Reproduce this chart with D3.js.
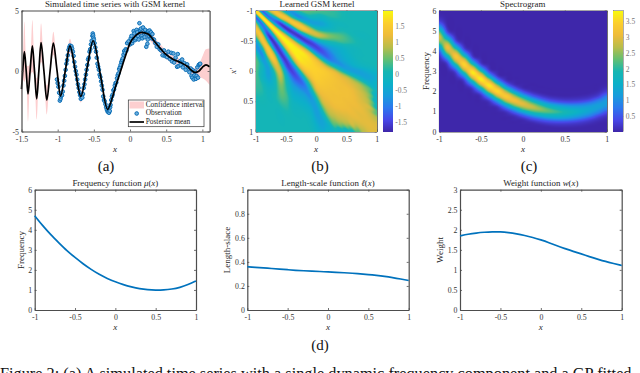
<!DOCTYPE html>
<html>
<head>
<meta charset="utf-8">
<script src="https://cdnjs.cloudflare.com/ajax/libs/d3/7.8.5/d3.min.js"></script>
<style>
html, body { margin: 0; padding: 0; background: #fff; overflow: hidden; }
#chart { position: relative; width: 640px; height: 373px; overflow: hidden; }
#chart canvas { position: absolute; }
#chart svg { position: absolute; left: 0; top: 0; }
text { font-family: "Liberation Serif", serif; fill: #262626; }
</style>
</head>
<body>
<div id="chart"></div>
<script>
// (a) posterior mean knots and half width of the confidence band
const meanX = [-1.5,-1.48,-1.46,-1.435,-1.41,-1.38,-1.35,-1.32,-1.29,-1.26,-1.23,-1.19,-1.15,-1.105,-1.06,-1.01,-.96,-.895,-.83,-.755,-.68,-.595,-.51,-.41,-.31,-.25,-.2,-.13,-.06,0,.08,.16,.25,.35,.5,.6,.7,.8,.85,.9,.95,1,1.05,1.1];
const meanY = [-1.5,.3,1.6,0,-1.9,.1,2.07,0,-2.3,0,2.35,0,-2.4,0,2.3,.1,-2.07,0,2.07,0,-2.1,.2,2.5,-.3,-3.17,-2.3,-1.3,0,1.3,2.3,2.95,3.2,3.05,2.35,1.35,.95,.7,.35,.05,-.12,-.02,.3,.5,.35];
const confHalf = [1.5,1,2.5,.5,2.3,.5,2.15,.5,1.7,.4,1.6,.3,1.2,.25,.95,.2,.35,.15,.6,.15,.5,.15,.3,.15,.3,.2,.15,.15,.2,.3,.35,.4,.4,.35,.35,.3,.3,.3,.3,.35,.5,.9,1.3,1.5];

// (a) observations
const obsX = [-1.01,-1,-.99,-.98,-.97,-.96,-.955,-.94,-.93,-.92,-.91,-.9,-.89,-.88,-.87,-.86,-.85,-.84,-.83,-.82,-.81,-.8,-.79,-.78,-.77,-.76,-.75,-.74,-.73,-.72,-.71,-.7,-.69,-.68,-.67,-.66,-.65,-.64,-.63,-.62,-.61,-.6,-.59,-.58,-.57,-.56,-.55,-.54,-.53,-.52,-.515,-.51,-.505,-.5,-.49,-.48,-.47,-.46,-.45,-.44,-.43,-.42,-.41,-.4,-.39,-.38,-.37,-.36,-.35,-.34,-.33,-.32,-.31,-.3,-.29,-.28,-.275,-.27,-.26,-.25,-.24,-.23,-.22,-.21,-.2,-.19,-.18,-.17,-.16,-.15,-.14,-.13,-.12,-.11,-.1,-.09,-.08,-.07,-.06,-.05,-.04,-.02,0,.01,.02,.03,.04,.05,.06,.07,.08,.09,.1,.11,.12,.13,.14,.15,.16,.17,.18,.19,.2,.21,.22,.225,.24,.245,.25,.26,.27,.28,.29,.3,.31,.33,.35,.37,.39,.41,.43,.45,.47,.48,.5,.51,.53,.55,.57,.58,.6,.61,.63,.65,.66,.67,.69,.7,.72,.73,.75,.77,.79,.8,.82,.84,.85,.86,.87,.88,.89,.9,.91,.92,.93,.94,.95,.96,.97];
const obsY = [-.7,-1,-1.3,-1.8,-2.45,-2.3,-2.1,-2,-1.7,-1.2,-.8,-.4,.1,.6,.9,1.3,1.75,1.95,2.1,2,2.05,1.85,1.6,1.25,.75,.35,0,-.3,-.7,-1.1,-1.4,-1.75,-2,-2.3,-2,-2.2,-1.9,-1.4,-1.1,-.7,-.3,.1,.5,.95,1.1,1.6,1.8,2.2,2.5,2.9,3.1,2.95,2.75,2.6,2.3,1.95,1.6,1.1,.6,.35,.1,-.3,-.5,-.85,-1.2,-1.55,-2.1,-2.4,-2.5,-2.75,-3,-3.2,-3.35,-3.4,-3.45,-3.3,-3,-2.8,-2.4,-2.1,-1.95,-1.6,-1.5,-1.2,-1,-.95,-.6,-.35,-.2,.15,.3,.5,.75,.9,1.05,1.35,1.65,1.5,1.8,1.7,2.3,2.45,2.2,2.7,2.9,2.3,2.5,3.3,3.1,2.55,2.7,3.4,3.2,2.9,2.6,3.95,3.4,3.5,2.9,2.7,3.6,3.2,2.8,3.4,3.1,2,2.25,2.6,3.3,2.9,3.35,3,3.2,2.7,3.05,2.6,2.3,2,2.2,1.8,1.7,1.3,1.7,1.25,1.3,1.15,1.6,1,1.5,.8,1.45,.7,1.1,.35,1.4,.4,.8,.5,.95,.3,.65,.1,.55,.3,-.1,.2,-.4,-.55,.05,-.7,-.35,-.05,-.65,-.4,.3,-.55,.5,.55,.6];

// (b) learned kernel: one row per x' (-1 to 1 by 0.1), values going outward from the diagonal by 0.1
const kernelRows = [
  [1.85,-1.2,.6,1.4,.7,-.5,-.7,.1,.4,.4,.35,.3,.25,.2,.1,.05,0,0,0,0,0],
  [1.9,-1,-.3,1.2,1.3,.1,-.8,-.6,-.1,-.1,-.1,.1,.15,.1,.05,0,0,0,0,0],
  [1.95,-.5,-1.5,0,1.4,1.2,.2,-.5,-.6,-.5,-.25,-.1,-.05,0,0,0,0,0,0],
  [1.95,.1,-1.6,-1.1,.7,1.4,.9,.15,-.1,-.1,-.05,.05,0,0,0,0,0,0],
  [1.95,.8,-1.1,-1.6,-.6,.5,1,.85,.6,.45,.35,.2,.05,-.05,-.05,0,0],
  [1.95,1.3,-.3,-1.5,-1.4,-.6,-.1,.1,.2,.3,.25,.15,.05,0,0,0],
  [1.9,1.6,.5,-1,-1.5,-1.1,-.65,-.4,-.25,-.1,-.05,0,0,0,0],
  [1.85,1.75,1,-.6,-1.3,-1.1,-.65,-.4,-.25,-.1,-.05,0,0,0],
  [1.75,1.65,1.15,-.1,-1,-.9,-.55,-.35,-.2,-.05,0,0,0],
  [1.65,1.55,1.25,.45,-.3,-.75,-.6,-.35,-.2,-.1,-.05,0],
  [1.6,1.55,1.4,1.1,.35,-.3,-.6,-.6,-.45,-.3,-.2],
  [1.5,1.45,1.35,1.2,.95,.35,-.2,-.5,-.5,-.35],
  [1.4,1.35,1.3,1.2,1.05,.75,.2,-.3,-.2],
  [1.35,1.3,1.3,1.2,1,.7,.3,-.25],
  [1.3,1.3,1.25,1.1,.9,.45,-.4],
  [1.25,1.25,1.15,1,.6,-.35],
  [1.2,1.2,1.1,.9,-.1],
  [1.15,1.15,.95,.4],
  [1.15,1.1,.9],
  [1.15,1.1],
  [1.1]
];

// (c) spectrogram: one row per x (-1 to 1 by 0.1), values going away from the ridge by 0.25 Hz
const spectrogramRows = [
  [2.95,2.35,1.2,.4,.1,.02],
  [3.1,2.5,1.3,.4,.1,.02],
  [3.3,2.65,1.35,.4,.1,.02],
  [3.5,2.8,1.4,.4,.08,.02],
  [3.7,2.9,1.4,.35,.07,.02],
  [3.75,2.9,1.35,.3,.06,.02],
  [3.7,2.85,1.25,.27,.05,.02],
  [3.55,2.7,1.15,.22,.04,.02],
  [3.35,2.55,1.05,.2,.03,.02],
  [3.15,2.4,.95,.17,.03,.02],
  [3,2.25,.85,.13,.03,.02],
  [2.8,2.05,.75,.12,.02,.02],
  [2.55,1.85,.65,.1,.02,.02],
  [2.3,1.65,.55,.08,.02,.02],
  [2.1,1.5,.48,.07,.02,.02],
  [1.9,1.35,.42,.06,.02,.02],
  [1.7,1.2,.38,.06,.02,.02],
  [1.5,1.08,.35,.06,.02,.02],
  [1.35,1,.33,.06,.02,.02],
  [1.25,.95,.33,.07,.02,.02],
  [1.2,.95,.38,.1,.02,.02]
];

// (d) the three learned functions on x = -1 to 1 by 0.1
const gridX = d3.range(21).map(i => -1 + i * 0.1);
const frequencyValues = [4.7,4.2,3.75,3.35,2.95,2.62,2.3,2.02,1.77,1.57,1.4,1.26,1.15,1.06,1.01,.99,1,1.04,1.12,1.26,1.45];
const lengthValues = [.36,.355,.35,.345,.34,.335,.33,.326,.323,.32,.316,.313,.31,.306,.3,.295,.288,.28,.27,.258,.245];
const weightValues = [1.85,1.89,1.92,1.94,1.95,1.95,1.93,1.9,1.86,1.81,1.75,1.68,1.6,1.53,1.46,1.4,1.33,1.27,1.21,1.16,1.11];

const unitTicks = [-1, -0.5, 0, 0.5, 1];
const parula = ["#3E26A8","#4747E8","#2C78EE","#189CDC","#0CB0C8","#16B6B2","#63BF72","#B8BD4A","#EEBC3A","#FCCF2E","#F8F90E"];
const axisColor = "#4d4d4d";
const lineBlue = "#0072bd";

const chart = d3.select("#chart");
const svg = chart.append("svg").attr("width", 640).attr("height", 373);

function cubic(a, b, c, d, t) {
    return b + 0.5 * t * (c - a + t * (2 * a - 5 * b + 4 * c - d + t * (3 * (b - c) + d - a)));
}

// cubic lookup along one row, mirrored at index 0
function rowAt(row, s) {
    const i = Math.floor(s), t = s - i;
    const get = k => row[Math.min(Math.abs(k), row.length - 1)];
    return cubic(get(i - 1), get(i), get(i + 1), get(i + 2), t);
}

function acrossRows(rows, r, fn) {
    const i = Math.floor(r), t = r - i;
    const get = k => fn(Math.max(0, Math.min(rows.length - 1, k)));
    return cubic(get(i - 1), get(i), get(i + 1), get(i + 2), t);
}

function makeColor(lo, hi) {
    const dom = parula.map((c, i) => lo + (hi - lo) * i / (parula.length - 1));
    return d3.scaleLinear().domain(dom).range(parula).clamp(true);
}

function paint(box, w, h, fn) {
    const canvas = chart.append("canvas")
        .attr("width", w).attr("height", h)
        .style("left", box.left + "px").style("top", box.top + "px")
        .style("width", w + "px").style("height", h + "px");
    const ctx = canvas.node().getContext("2d");
    for (let py = 0; py < h; py++) {
        for (let px = 0; px < w; px++) {
            ctx.fillStyle = fn(px + 0.5, py + 0.5);
            ctx.fillRect(px, py, 1, 1);
        }
    }
}

function drawAxes(box, xDomain, yDomain, xTicks, yTicks, opts) {
    opts = opts || {};
    const x = d3.scaleLinear().domain(xDomain).range([box.left, box.right]);
    const y = d3.scaleLinear().domain(yDomain).range(opts.flipY ? [box.top, box.bottom] : [box.bottom, box.top]);
    const g = svg.append("g");
    const fmt = d => String(d);
    const sides = [
        [d3.axisBottom(x).tickValues(xTicks).tickFormat(fmt), box.bottom, 0, "bottom"],
        [d3.axisTop(x).tickValues(xTicks).tickFormat(""), box.top, 0, "top"],
        [d3.axisLeft(y).tickValues(yTicks).tickFormat(fmt), 0, box.left, "left"],
        [d3.axisRight(y).tickValues(yTicks).tickFormat(""), 0, box.right, "right"]
    ];
    sides.forEach(s => {
        const a = g.append("g").attr("transform", "translate(" + s[2] + "," + s[1] + ")")
            .call(s[0].tickSizeInner(-2).tickSizeOuter(0));
        a.selectAll("path").attr("stroke", axisColor).attr("stroke-width", 1.2);
        a.selectAll("line").attr("stroke", axisColor).attr("stroke-width", 0.8);
        a.selectAll("text").style("font-size", "7.8px").style("fill", "#333");
        if (s[3] == "bottom") a.selectAll("text").attr("y", 4.5).attr("dy", "0.71em");
        if (s[3] == "left") a.selectAll("text").attr("x", -2.5);
    });
    return { x, y };
}

function mathText(cx, cy, parts, size, rotate) {
    const t = svg.append("text")
        .attr("text-anchor", "middle")
        .attr("dominant-baseline", "middle")
        .style("font-size", size + "px")
        .attr("transform", "translate(" + cx + "," + cy + ")" + (rotate ? " rotate(-90)" : ""));
    parts.forEach(p => {
        t.append("tspan").style("font-style", p[1] ? "italic" : "normal").text(p[0]);
    });
}

function colorbar(box, color, lo, hi, ticks) {
    const w = box.right - box.left, h = box.bottom - box.top;
    const y = d3.scaleLinear().domain([lo, hi]).range([box.bottom, box.top]);
    paint(box, w, h, (px, py) => color(y.invert(box.top + py)));
    svg.append("rect")
        .attr("x", box.left).attr("y", box.top).attr("width", w).attr("height", h)
        .attr("fill", "none").attr("stroke", "#777").attr("stroke-width", 0.6);
    const a = svg.append("g").attr("transform", "translate(" + box.right + ",0)")
        .call(d3.axisRight(y).tickValues(ticks).tickSizeInner(-1.5).tickSizeOuter(0).tickFormat(d => String(d)));
    a.select("path").remove();
    a.selectAll("line").attr("stroke", "#777").attr("stroke-width", 0.5);
    a.selectAll("text").attr("x", 2.5).style("font-size", "7.5px").style("fill", "#777");
}

// ---------- (a) time series
const boxA = { left: 21.5, right: 209.6, top: 10.5, bottom: 131.5 };
const xA = d3.scaleLinear().domain([-1.5, 1.1]).range([boxA.left, boxA.right]);
const yA = d3.scaleLinear().domain([-5, 5]).range([boxA.bottom, boxA.top]);
const meanRows = meanX.map((v, i) => ({ x: v, y: meanY[i], h: confHalf[i] }));

svg.append("path").datum(meanRows)
    .attr("fill", "#fdcfd0")
    .attr("d", d3.area().curve(d3.curveMonotoneX).x(d => xA(d.x)).y0(d => yA(d.y - d.h)).y1(d => yA(d.y + d.h)));

svg.append("g").selectAll("circle").data(obsX).join("circle")
    .attr("cx", d => xA(d))
    .attr("cy", (d, i) => yA(obsY[i]))
    .attr("r", 1.8)
    .attr("fill", "#6aaede")
    .attr("stroke", "#0a6db5")
    .attr("stroke-width", 1);

svg.append("path").datum(meanRows)
    .attr("fill", "none").attr("stroke", "#000").attr("stroke-width", 1.7)
    .attr("d", d3.line().curve(d3.curveMonotoneX).x(d => xA(d.x)).y(d => yA(d.y)));

drawAxes(boxA, [-1.5, 1.1], [-5, 5], [-1.5, -1, -0.5, 0, 0.5, 1], [-5, 0, 5]);
mathText(115, 5, [["Simulated time series with GSM kernel"]], 8.9);
mathText(115, 150, [["x", true]], 9);

const legend = svg.append("g");
legend.append("rect").attr("x", 128.3).attr("y", 100).attr("width", 75.7).attr("height", 26.7)
    .attr("fill", "#fff").attr("stroke", "#333").attr("stroke-width", 0.7);
legend.append("rect").attr("x", 129.5).attr("y", 101.5).attr("width", 14.5).attr("height", 7).attr("fill", "#fdcfd0");
legend.append("circle").attr("cx", 136.7).attr("cy", 113.5).attr("r", 1.8)
    .attr("fill", "#6aaede").attr("stroke", "#0a6db5").attr("stroke-width", 1);
legend.append("line").attr("x1", 129.5).attr("x2", 144).attr("y1", 122).attr("y2", 122)
    .attr("stroke", "#000").attr("stroke-width", 1.7);
[["Confidence interval", 105], ["Observation", 113.5], ["Posterior mean", 122]].forEach(r => {
    legend.append("text").attr("x", 145.7).attr("y", r[1]).attr("dominant-baseline", "middle")
        .style("font-size", "7.4px").text(r[0]);
});

// ---------- (b) kernel
const boxB = { left: 255.7, right: 376.7, top: 10.5, bottom: 131.5 };
const kernelColor = makeColor(-1.81, 1.98);
const xBPix = d3.scaleLinear().domain([0, 121]).range([-1, 1]);

function kernelAt(a, b) {
    const lo = Math.min(a, b), hi = Math.max(a, b);
    return acrossRows(kernelRows, (lo + 1) / 0.1, k => rowAt(kernelRows[k], (hi - lo) / 0.1));
}
paint(boxB, 121, 121, (px, py) => kernelColor(kernelAt(xBPix(px), xBPix(py))));
drawAxes(boxB, [-1, 1], [-1, 1], unitTicks, unitTicks, { flipY: true });
mathText(317, 5, [["Learned GSM kernel"]], 8.9);
mathText(316, 150, [["x", true]], 9);
mathText(234, 71, [["x\u2032", true]], 9, true);
colorbar({ left: 383.3, right: 392.7, top: 10.5, bottom: 131.5 }, kernelColor, -1.81, 1.98,
    [-1.5, -1, -0.5, 0, 0.5, 1, 1.5]);

// ---------- (c) spectrogram
const boxC = { left: 439, right: 606.7, top: 10.5, bottom: 131.5 };
const specColor = makeColor(0.01, 3.84);
const xCPix = d3.scaleLinear().domain([0, 167.7]).range([-1, 1]);
const fCPix = d3.scaleLinear().domain([0, 121]).range([6, 0]);

function spectrogramAt(x, f) {
    return acrossRows(spectrogramRows, (x + 1) / 0.1, k => {
        const off = Math.abs(f - frequencyValues[k]) / 0.25;
        return off >= 5 ? spectrogramRows[k][5] : rowAt(spectrogramRows[k], off);
    });
}
paint(boxC, 168, 121, (px, py) => specColor(spectrogramAt(xCPix(px), fCPix(py))));
drawAxes(boxC, [-1, 1], [0, 6], unitTicks, [0, 1, 2, 3, 4, 5, 6]);
mathText(522.7, 5, [["Spectrogram"]], 8.9);
mathText(523, 150, [["x", true]], 9);
mathText(427, 71, [["Frequency"]], 9, true);
colorbar({ left: 613.3, right: 623.3, top: 10.5, bottom: 131.5 }, specColor, 0.01, 3.84,
    [0.5, 1, 1.5, 2, 2.5, 3, 3.5]);

// ---------- (d) learned functions
function functionPanel(box, values, yMax, yTicks, title, label, labelX) {
    const s = drawAxes(box, [-1, 1], [0, yMax], unitTicks, yTicks);
    svg.append("path").datum(values)
        .attr("fill", "none").attr("stroke", lineBlue).attr("stroke-width", 1.7)
        .attr("d", d3.line().curve(d3.curveBasis).x((d, i) => s.x(gridX[i])).y(d => s.y(d)));
    const cx = (box.left + box.right) / 2;
    mathText(cx, 183.5, title, 8.9);
    mathText(cx, 328, [["x", true]], 9);
    mathText(labelX, 250, [[label]], 9, true);
}

functionPanel({ left: 34.7, right: 196, top: 189.7, bottom: 310 }, frequencyValues, 6, [0, 1, 2, 3, 4, 5, 6],
    [["Frequency function "], ["\u03bc", true], ["("], ["x", true], [")"]], "Frequency", 21.5);
functionPanel({ left: 247.3, right: 408.7, top: 189.7, bottom: 310 }, lengthValues, 1, [0, 0.2, 0.4, 0.6, 0.8, 1],
    [["Length-scale function "], ["\u2113", true], ["("], ["x", true], [")"]], "Length-slace", 228);
functionPanel({ left: 460, right: 621.7, top: 189.7, bottom: 310 }, weightValues, 3, [0, 0.5, 1, 1.5, 2, 2.5, 3],
    [["Weight function "], ["w", true], ["("], ["x", true], [")"]], "Weight", 440.7);

// ---------- sub-figure labels and caption
[["(a)", 106, 168], ["(b)", 320, 168], ["(c)", 529, 168], ["(d)", 320, 347]].forEach(l => {
    svg.append("text").attr("x", l[1]).attr("y", l[2]).attr("text-anchor", "middle")
        .attr("dominant-baseline", "middle").style("font-size", "15px").style("fill", "#111").text(l[0]);
});
svg.append("text").attr("x", 0).attr("y", 379).style("font-size", "16.3px").style("fill", "#111")
    .text("Figure 2: (a) A simulated time series with a single dynamic frequency component and a GP fitted");
</script>
</body>
</html>
